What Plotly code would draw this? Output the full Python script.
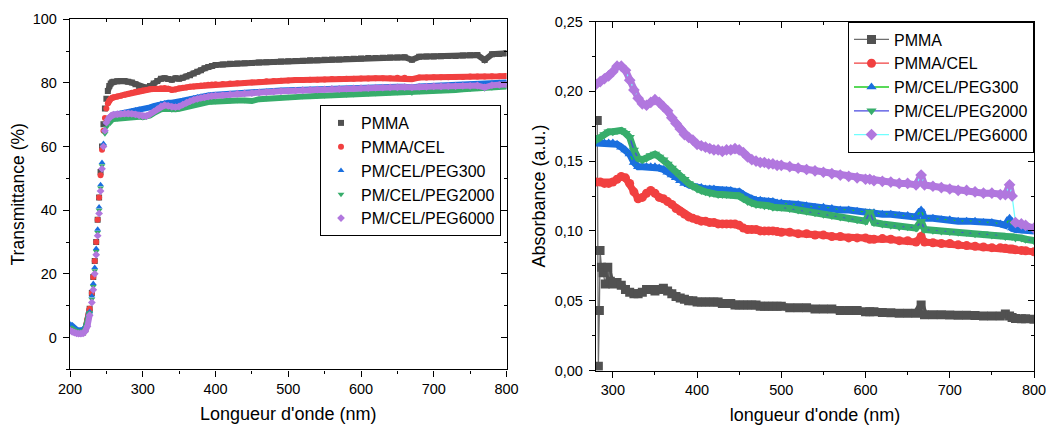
import plotly.graph_objects as go

# ---------------- Left panel: Transmittance ----------------
wl_T = [200, 203, 206, 209, 212, 215, 218, 221, 224, 227,
        230, 232, 234, 236, 238, 240, 242, 244, 246, 248, 250, 252, 254, 256, 258, 260,
        265, 270, 275, 280, 285, 290, 295, 300, 305, 310, 315, 320, 325, 330, 335, 340,
        345, 350, 355, 360, 365, 370, 375, 380, 385, 390, 395, 400,
        410, 420, 430, 440, 450, 460, 470, 480, 490, 500, 510, 520, 530, 540, 550, 560,
        570, 580, 590, 600, 610, 620, 630, 640, 650, 660, 670, 680, 690, 700, 710, 720,
        730, 740, 750, 760, 770, 780, 790, 800]

T_PMMA = [3.0, 2.5, 2.0, 1.7, 1.5, 1.4, 1.6, 2.5, 5.0, 9.0,
          14, 19, 24, 30, 37, 44, 52, 60, 67, 72, 75, 77.5, 79, 79.8, 80.2, 80.4,
          80.5, 80.6, 80.6, 80.4, 80.1, 79.6, 79.0, 78.6, 78.5, 79.0,
          79.8, 80.6, 81.3, 81.5, 81.2, 81.0, 81.5, 81.3, 81.6, 82.0,
          82.4, 83.0, 83.5, 84.0, 84.6, 85.0, 85.3, 85.6,
          85.8, 86.0, 86.1, 86.2, 86.3, 86.4, 86.5, 86.6, 86.7, 86.8,
          86.9, 87.0, 87.1, 87.1, 87.3, 87.4, 87.4, 87.5, 87.6, 87.7,
          87.8, 87.8, 87.9, 88.0, 88.0, 88.1, 87.3, 88.2, 88.3, 88.3,
          88.4, 88.5, 88.5, 88.6, 88.7, 88.8, 87.2, 89.0, 89.1, 89.3]

T_CEL = [3.0, 2.5, 2.0, 1.7, 1.5, 1.4, 1.6, 2.5, 5.0, 9.0,
         14, 19, 24, 30, 37, 44, 51, 59, 65, 69, 72, 73.5, 74.5, 75.0, 75.3, 75.5,
         75.7, 76.0, 76.3, 76.6, 76.9, 77.2, 77.4, 77.6, 77.8, 78.0,
         78.1, 78.2, 78.3, 78.4, 78.2, 77.8, 77.9, 78.3, 78.5, 78.6,
         78.8, 78.9, 79.0, 79.2, 79.3, 79.4, 79.5, 79.6,
         79.7, 79.8, 79.9, 80.0, 80.1, 80.3, 80.5, 80.6, 80.7, 80.8,
         80.9, 80.9, 81.0, 81.0, 81.1, 81.2, 81.2, 81.3, 81.3, 81.4,
         81.4, 81.5, 81.5, 81.5, 81.6, 81.6, 81.2, 81.7, 81.7, 81.8,
         81.8, 81.8, 81.9, 81.9, 82.0, 82.0, 82.0, 82.1, 82.1, 82.2]

T_PEG300 = [4.2, 3.4, 2.8, 2.4, 2.2, 2.2, 2.4, 3.0, 4.8, 8.2,
            13, 17, 22, 28, 34, 41, 48, 55, 61, 65, 67.5, 68.5, 69.0, 69.5, 69.8, 70.0,
            70.2, 70.4, 70.6, 70.9, 71.2, 71.5, 71.7, 71.8, 72.0, 72.3,
            72.7, 73.1, 73.5, 73.7, 73.8, 73.8, 73.9, 74.1, 74.4, 74.7,
            75.0, 75.3, 75.6, 75.8, 76.0, 76.1, 76.2, 76.3,
            76.5, 76.6, 76.8, 76.9, 77.0, 77.2, 77.4, 77.5, 77.6, 77.7,
            77.8, 77.9, 78.0, 78.0, 78.1, 78.2, 78.3, 78.3, 78.4, 78.5,
            78.5, 78.6, 78.7, 78.7, 78.8, 78.8, 78.6, 78.9, 79.0, 79.1,
            79.2, 79.3, 79.4, 79.5, 79.6, 79.7, 79.6, 79.8, 79.9, 80.1]

T_PEG2000 = [3.0, 2.5, 2.1, 1.8, 1.6, 1.5, 1.7, 2.5, 4.5, 7.8,
             12, 16, 21, 27, 33, 40, 47, 54, 60, 64, 66, 67, 67.8, 68.2, 68.5, 68.7,
             68.8, 69.0, 69.2, 69.3, 69.4, 69.5, 69.4, 69.2, 69.3, 69.8,
             70.5, 71.2, 71.7, 71.9, 71.8, 71.6, 71.7, 71.9, 72.2, 72.6,
             72.9, 73.2, 73.5, 73.7, 73.9, 74.0, 74.1, 74.2,
             74.4, 74.4, 74.5, 74.5, 74.3, 74.9, 75.1, 75.3, 75.4, 75.5,
             75.6, 75.7, 75.8, 75.9, 76.0, 76.1, 76.2, 76.3, 76.4, 76.5,
             76.6, 76.7, 76.8, 76.9, 77.0, 77.1, 76.8, 77.3, 77.4, 77.5,
             77.6, 77.7, 77.8, 78.0, 78.1, 78.3, 78.2, 78.5, 78.7, 78.9]

T_PEG6000 = [2.2, 1.8, 1.5, 1.3, 1.2, 1.2, 1.3, 2.0, 3.5, 7.0,
             11, 15, 20, 26, 32, 39, 46, 53, 60, 65, 67.5, 68.5, 69.2, 69.6, 69.9, 70.0,
             70.2, 70.3, 70.4, 70.4, 70.3, 70.1, 69.8, 69.6, 69.6, 70.2,
             71.0, 71.8, 72.6, 73.0, 72.8, 72.5, 72.4, 72.6, 73.2, 73.8,
             74.3, 74.7, 75.0, 75.3, 75.5, 75.7, 75.9, 76.0,
             76.2, 76.4, 76.6, 76.7, 76.8, 77.0, 77.1, 77.3, 77.4, 77.5,
             77.6, 77.7, 77.8, 77.9, 78.0, 78.1, 78.1, 78.2, 78.3, 78.4,
             78.4, 78.5, 78.5, 78.6, 78.6, 78.7, 78.6, 78.8, 78.8, 78.9,
             78.9, 79.0, 79.0, 79.1, 79.1, 79.2, 78.6, 79.3, 79.4, 79.5]

# ---------------- Right panel: Absorbance ----------------
wl_A = [280, 285, 290, 295, 300, 305, 310, 315, 320, 325, 330, 335, 340, 345, 350,
        355, 360, 365, 370, 375, 380, 385, 390, 395, 400, 405, 410, 415, 420, 425,
        430, 435, 440, 445, 450, 455, 460, 465, 470, 475, 480, 485, 490, 495, 500,
        510, 520, 530, 540, 550, 560, 570, 580, 590, 600, 605, 610, 620, 630, 640,
        650, 660, 666, 670, 680, 690, 700, 710, 720, 730, 740, 750, 760, 766, 771,
        774, 778, 785, 790, 800]

wl_A_PMMA_start = [281.5, 282.8, 284.0, 284.8, 286.5, 288.5, 291, 294, 297]
A_PMMA_start = [0.179, 0.003, 0.043, 0.086, 0.074, 0.070, 0.062, 0.074, 0.064]
A_PMMA_rest = [0.062, 0.063, 0.061, 0.058, 0.056, 0.055, 0.055, 0.056, 0.058, 0.058,
               0.057, 0.058, 0.059, 0.057, 0.055, 0.053, 0.052, 0.051, 0.050, 0.050,
               0.049, 0.049, 0.049, 0.049, 0.049, 0.049, 0.048, 0.048, 0.048, 0.047,
               0.047, 0.047, 0.047, 0.047, 0.047, 0.046, 0.046, 0.046, 0.046, 0.046,
               0.046,
               0.045, 0.045, 0.045, 0.044, 0.044, 0.044, 0.043, 0.043, 0.043, 0.042,
               0.042,
               0.042, 0.0415, 0.0413, 0.041, 0.041, 0.041,
               0.047,
               0.040, 0.040, 0.040, 0.0398, 0.0396, 0.0395, 0.0394, 0.039, 0.039, 0.039,
               0.0405, 0.039, 0.038, 0.0372, 0.037, 0.037, 0.0367]

A_CEL = [0.135, 0.135, 0.134, 0.134, 0.135, 0.137, 0.139, 0.138, 0.134, 0.128,
         0.123, 0.124, 0.127, 0.129, 0.127, 0.124, 0.123, 0.121, 0.119, 0.116,
         0.114, 0.112, 0.110, 0.109, 0.108, 0.107, 0.107, 0.106, 0.106, 0.105,
         0.105, 0.105, 0.105, 0.105, 0.104, 0.102, 0.101, 0.101, 0.101, 0.100,
         0.100, 0.100, 0.100, 0.0995, 0.099,
         0.099, 0.098, 0.098, 0.097, 0.097, 0.096, 0.096, 0.095, 0.095, 0.095,
         0.094,
         0.094, 0.0945, 0.094, 0.093, 0.093, 0.092,
         0.096,
         0.092, 0.0915, 0.091, 0.091, 0.090, 0.0895, 0.089, 0.0885, 0.088, 0.088,
         0.0875, 0.087, 0.087, 0.0865, 0.086, 0.0858, 0.085]

A_PEG300 = [0.163, 0.163, 0.163, 0.163, 0.163, 0.162, 0.160, 0.158, 0.155, 0.149,
            0.146, 0.146, 0.146, 0.146, 0.146, 0.145, 0.144, 0.142, 0.140, 0.138,
            0.136, 0.134, 0.133, 0.132, 0.131, 0.131, 0.130, 0.130, 0.130, 0.129,
            0.129, 0.129, 0.129, 0.128, 0.128, 0.126, 0.124, 0.123, 0.122, 0.122,
            0.121, 0.121, 0.121, 0.120, 0.120,
            0.119, 0.119, 0.118, 0.117, 0.117, 0.116, 0.115, 0.115, 0.114, 0.113,
            0.113,
            0.113, 0.112, 0.112, 0.111, 0.111, 0.110,
            0.115,
            0.109, 0.109, 0.108, 0.108, 0.107, 0.107, 0.107, 0.106, 0.106, 0.105,
            0.104, 0.109, 0.102, 0.101, 0.1005, 0.100, 0.100]

A_PEG2000 = [0.165, 0.167, 0.169, 0.171, 0.171, 0.172, 0.172, 0.170, 0.167, 0.158,
             0.152, 0.151, 0.152, 0.154, 0.155, 0.153, 0.151, 0.148, 0.145, 0.142,
             0.139, 0.137, 0.134, 0.132, 0.130, 0.129, 0.128, 0.127, 0.127, 0.126,
             0.126, 0.126, 0.126, 0.126, 0.125, 0.123, 0.121, 0.120, 0.119, 0.119,
             0.118, 0.118, 0.117, 0.117, 0.117,
             0.116, 0.115, 0.114, 0.113, 0.112, 0.111, 0.110, 0.109, 0.108, 0.107,
             0.1135,
             0.106, 0.105, 0.104, 0.103, 0.103, 0.102,
             0.107,
             0.101, 0.1005, 0.100, 0.0995, 0.099, 0.099, 0.098, 0.098, 0.097, 0.097,
             0.096, 0.0965, 0.096, 0.095, 0.095, 0.094, 0.093]

A_PEG6000 = [0.205, 0.207, 0.209, 0.211, 0.214, 0.218, 0.218, 0.215, 0.208, 0.201,
             0.195, 0.191, 0.190, 0.192, 0.194, 0.192, 0.189, 0.186, 0.181, 0.177,
             0.173, 0.169, 0.167, 0.165, 0.162, 0.161, 0.160, 0.159, 0.158, 0.158,
             0.157, 0.158, 0.158, 0.159, 0.158, 0.156, 0.153, 0.151, 0.150, 0.149,
             0.149, 0.148, 0.148, 0.147, 0.147,
             0.146, 0.145, 0.144, 0.143, 0.142, 0.141, 0.140, 0.139, 0.138, 0.137,
             0.137,
             0.136, 0.1355, 0.135, 0.134, 0.134, 0.133,
             0.140,
             0.133, 0.132, 0.131, 0.130, 0.129, 0.129, 0.128, 0.127, 0.127, 0.126,
             0.126, 0.133, 0.125, 0.106, 0.105, 0.104, 0.102]

names = ["PMMA", "PMMA/CEL", "PM/CEL/PEG300", "PM/CEL/PEG2000", "PM/CEL/PEG6000"]
marker_colors = ["#515151", "#F14040", "#1A6FDF", "#37AD6B", "#B177DE"]
line_colors_A = ["#6e6e6e", "#F14040", "#22cc22", "#4848e0", "#70ffff"]
symbols = ["square", "circle", "triangle-up", "triangle-down", "diamond"]

T_series = [T_PMMA, T_CEL, T_PEG300, T_PEG2000, T_PEG6000]
A_x = [wl_A_PMMA_start + wl_A[4:], wl_A, wl_A, wl_A, wl_A]
A_series = [A_PMMA_start + A_PMMA_rest, A_CEL, A_PEG300, A_PEG2000, A_PEG6000]

for s in T_series:
    assert len(s) == len(wl_T), (len(s), len(wl_T))
for xx, s in zip(A_x, A_series):
    assert len(s) == len(xx), (len(s), len(xx))

FONT = "Liberation Sans, Arial, sans-serif"

W, H = 1047, 425


def fx(px):  # window x-pixel -> paper fraction
    return px / W


def fy(py):  # window y-pixel (from top) -> paper fraction
    return 1 - py / H


fig = go.Figure()

# Left panel traces (band under the dense markers, broken on the steep edge)
for name, ys, mc, sym in zip(names, T_series, marker_colors, symbols):
    band = [v if (w <= 227 or w >= 252) else None for w, v in zip(wl_T, ys)]
    fig.add_trace(go.Scatter(x=wl_T, y=band, mode="lines", line=dict(color=mc, width=6),
                             showlegend=False, hoverinfo="skip", connectgaps=False,
                             xaxis="x", yaxis="y"))
    fig.add_trace(go.Scatter(x=wl_T, y=ys, mode="markers", name=name,
                             marker=dict(symbol=sym, color=mc, size=6, line=dict(width=0)),
                             xaxis="x", yaxis="y", legend="legend"))


def band_segments(xs, ys, start=0.0, jump=0.01):
    """split a series into continuous segments (for the thick marker band)"""
    segs, cx, cy = [], [], []
    for x, y in zip(xs, ys):
        if x < start:
            continue
        if cy and abs(y - cy[-1]) > jump:
            segs.append((cx, cy))
            cx, cy = [], []
        cx.append(x)
        cy.append(y)
    if cx:
        segs.append((cx, cy))
    return segs


# Right panel traces
for i, (name, xs, ys, mc, lc, sym) in enumerate(zip(names, A_x, A_series, marker_colors, line_colors_A, symbols)):
    for bx, by in band_segments(xs, ys, start=290 if i == 0 else 0):
        fig.add_trace(go.Scatter(x=bx, y=by, mode="lines", line=dict(color=mc, width=7),
                                 showlegend=False, hoverinfo="skip",
                                 xaxis="x2", yaxis="y2"))
    fig.add_trace(go.Scatter(x=xs, y=ys, mode="lines+markers", name=name,
                             line=dict(color=lc, width=1.3),
                             marker=dict(symbol=sym, color=mc, size=9, line=dict(width=0)),
                             xaxis="x2", yaxis="y2", legend="legend2"))

# dummy traces so the mirrored (inward-tick) axes are drawn
fig.add_trace(go.Scatter(x=[None], y=[None], xaxis="x3", yaxis="y3", showlegend=False, hoverinfo="skip"))
fig.add_trace(go.Scatter(x=[None], y=[None], xaxis="x4", yaxis="y4", showlegend=False, hoverinfo="skip"))

axis_common = dict(showgrid=False, zeroline=False, showline=True, linecolor="black",
                   linewidth=1.4, mirror=True, ticks="outside", ticklen=6, tickwidth=1.2,
                   tickcolor="black", automargin=False,
                   tickfont=dict(family=FONT, size=14.5, color="black"))
inner_common = dict(showgrid=False, zeroline=False, showline=False, ticks="inside",
                    ticklen=6, tickwidth=1.2, tickcolor="black", showticklabels=False,
                    automargin=False)

xL = [200, 800]
yL = [-10, 100]
xR = [280, 800]
yR = [0, 0.25]

dom_xL = [fx(70), fx(506.5)]
dom_yL = [fy(369.3), fy(19.3)]
dom_xR = [fx(596), fx(1034)]
dom_yR = [fy(370.5), fy(21.5)]

minor_out = lambda d: dict(ticks="outside", ticklen=3, tickwidth=1.2, tickcolor="black", dtick=d, tick0=0, showgrid=False)
minor_in = lambda d: dict(ticks="inside", ticklen=3, tickwidth=1.2, tickcolor="black", dtick=d, tick0=0, showgrid=False)

fig.update_layout(
    width=W, height=H, autosize=False,
    margin=dict(l=0, r=0, t=0, b=0, pad=0),
    paper_bgcolor="white", plot_bgcolor="white",
    separators=",.",
    font=dict(family=FONT, color="black"),
    xaxis=dict(**axis_common, domain=dom_xL, range=xL, anchor="y", tick0=0, dtick=100,
               minor=minor_out(50),
               title=dict(text="Longueur d'onde (nm)", font=dict(family=FONT, size=18), standoff=11)),
    yaxis=dict(**axis_common, domain=dom_yL, range=yL, anchor="x", tick0=0, dtick=20,
               minor=minor_out(10), ticklabelstandoff=3,
               title=dict(text="Transmittance (%)", font=dict(family=FONT, size=17.5), standoff=3)),
    xaxis3=dict(**inner_common, domain=dom_xL, range=xL, overlaying="x", anchor="y", side="top",
                tick0=0, dtick=100, minor=minor_in(50)),
    yaxis3=dict(**inner_common, domain=dom_yL, range=yL, overlaying="y", anchor="x", side="right",
                tick0=0, dtick=20, minor=minor_in(10)),
    xaxis2=dict(**axis_common, domain=dom_xR, range=xR, anchor="y2", tick0=0, dtick=100,
                minor=minor_out(50),
                title=dict(text="longueur d'onde (nm)", font=dict(family=FONT, size=18), standoff=11)),
    yaxis2=dict(**axis_common, domain=dom_yR, range=yR, anchor="x2", tick0=0, dtick=0.05,
                tickformat=".2f", minor=minor_out(0.025), ticklabelstandoff=3,
                title=dict(text="Absorbance (a.u.)", font=dict(family=FONT, size=18), standoff=4)),
    xaxis4=dict(**inner_common, domain=dom_xR, range=xR, overlaying="x2", anchor="y2", side="top",
                tick0=0, dtick=100, minor=minor_in(50)),
    yaxis4=dict(**inner_common, domain=dom_yR, range=yR, overlaying="y2", anchor="x2", side="right",
                tick0=0, dtick=0.05, minor=minor_in(0.025)),
    legend=dict(x=fx(320), y=fy(105), xanchor="left", yanchor="top",
                bgcolor="white", bordercolor="black", borderwidth=1,
                font=dict(family=FONT, size=16, color="black"), tracegroupgap=0,
                itemsizing="trace"),
    legend2=dict(x=fx(848), y=fy(21.5), xanchor="left", yanchor="top",
                 bgcolor="white", bordercolor="black", borderwidth=1,
                 font=dict(family=FONT, size=16, color="black"), tracegroupgap=0,
                 itemwidth=35, itemsizing="trace"),
    showlegend=True,
)

# remove the browser's default 8px page margin so the figure fills the window exactly
fig.write_html("out.html",
               config={"displayModeBar": False},
               post_script="document.body.style.margin='0';document.body.style.overflow='hidden';")
